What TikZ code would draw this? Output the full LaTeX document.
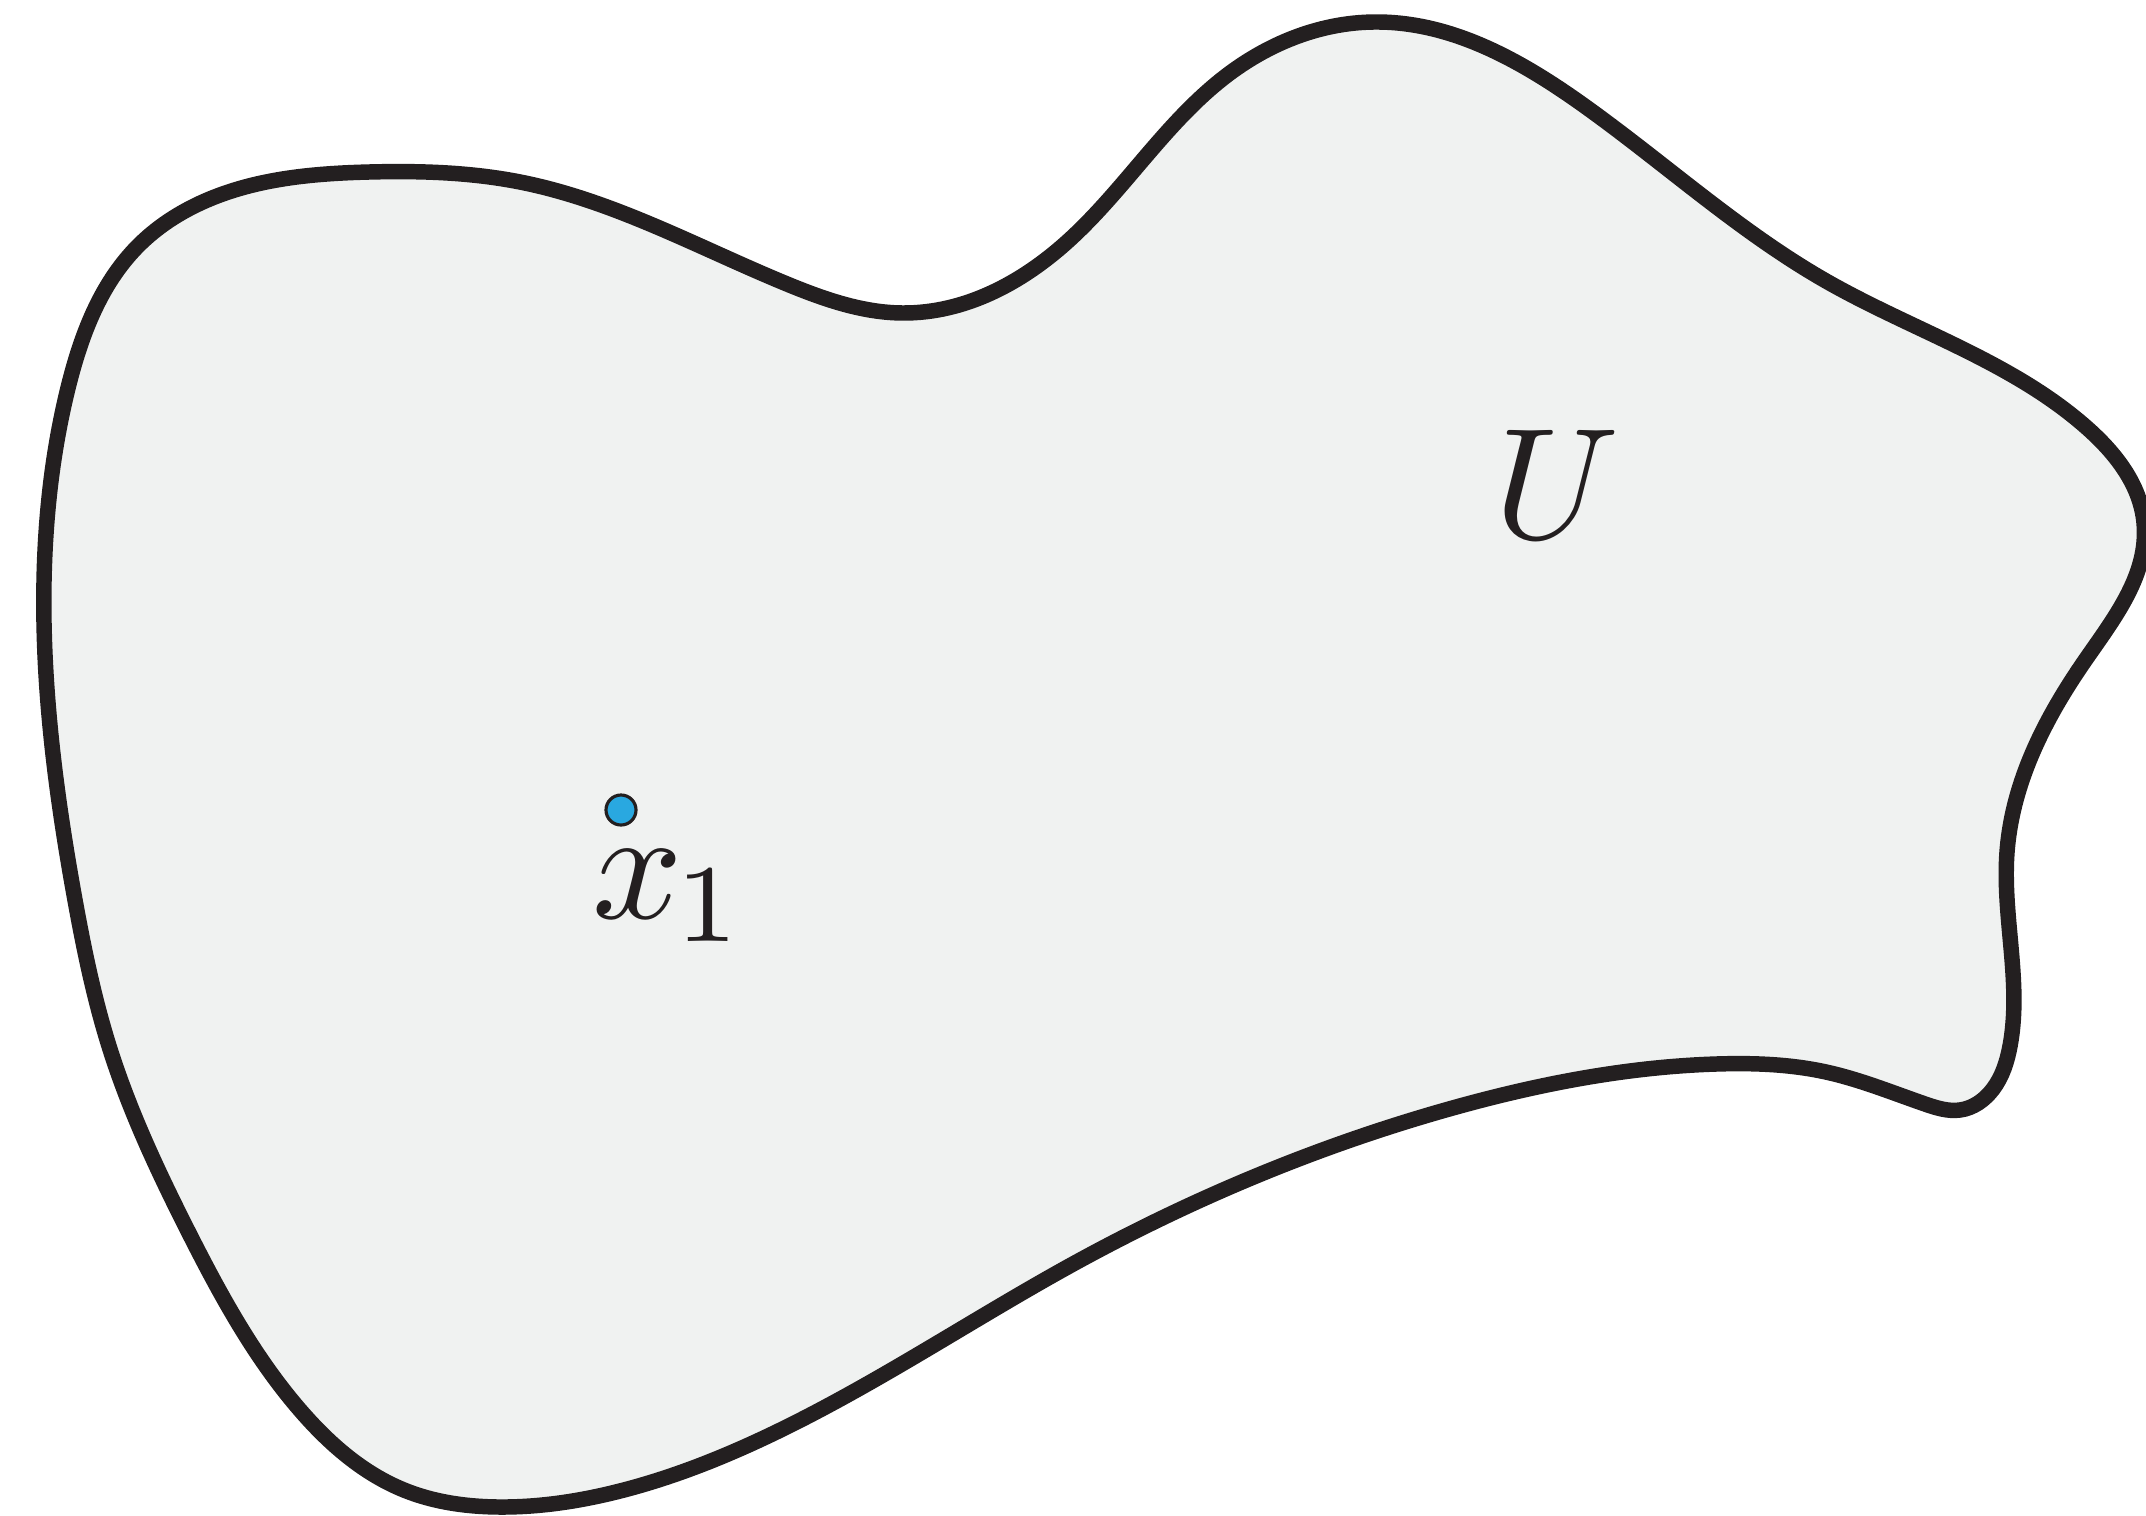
\documentclass[tikz,border=0pt]{standalone}
\usetikzlibrary{hobby}
\definecolor{edge}{HTML}{231F20}
\definecolor{region}{HTML}{F0F2F1}
\definecolor{dotblue}{HTML}{29A8E0}
\tikzset{
  blob/.style={draw=edge, fill=region, line width=4.4pt},
  pointdot/.style={circle, draw=edge, fill=dotblue, line width=0.9pt, minimum size=0.3cm, inner sep=0pt},
  biglabel/.style={text=edge, inner sep=0pt, scale=4.5}
}
\begin{document}
\begin{tikzpicture}[x=0.01cm, y=-0.01cm]
\useasboundingbox (0,0) rectangle (2146,1515);
\clip (0,0) rectangle (2146,1515);
\draw[blob, use Hobby shortcut, closed=true]
  (369,172) .. (520,182) .. (787,284) .. (903,313) .. (1067,242) .. (1230,73)
  .. (1374,22) .. (1586,107) .. (1826,281) .. (2086,427) .. (2144,523)
  .. (2086,659) .. (2007,852) .. (2010,1046) .. (1993,1089) .. (1960,1110)
  .. (1925,1104) .. (1826,1072) .. (1716,1064) .. (1449,1109) .. (1073,1264) .. (753,1443)
  .. (616,1492) .. (500,1507) .. (404,1490) .. (300,1410) .. (189,1233) .. (109,1046)
  .. (75,900) .. (44,582) .. (68,388) .. (137,247) .. (205,201);
\node[pointdot] (x1) at (621,810) {};
\node[biglabel, anchor=base west] (x1lab) at (589,918) {$x_{\mkern-1mu 1}$};
\node[biglabel, anchor=base] (U) at (1557,538) {$U$};
\end{tikzpicture}
\end{document}
